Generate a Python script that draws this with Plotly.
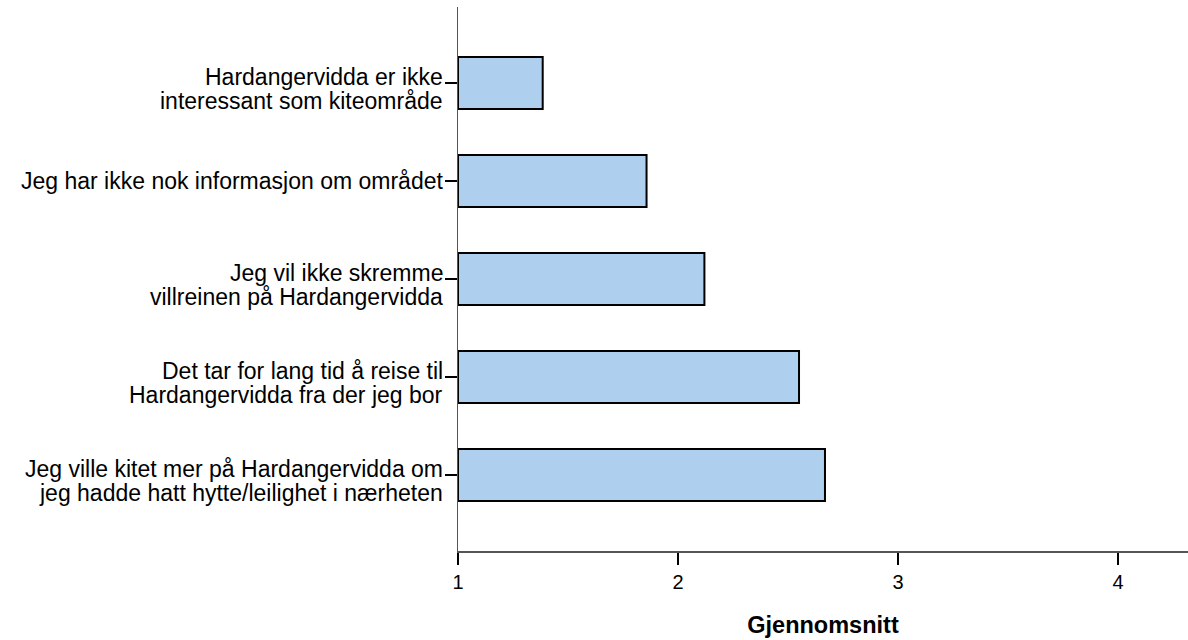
import plotly.graph_objects as go

categories = [
    "Hardangervidda er ikke<br>interessant som kiteområde",
    "Jeg har ikke nok informasjon om området",
    "Jeg vil ikke skremme<br>villreinen på Hardangervidda",
    "Det tar for lang tid å reise til<br>Hardangervidda fra der jeg bor",
    "Jeg ville kitet mer på Hardangervidda om<br>jeg hadde hatt hytte/leilighet i nærheten",
]
means = [1.385, 1.857, 2.12, 2.55, 2.668]
axis_start = 1
x_ticks = [1, 2, 3, 4]
x_title = "Gjennomsnitt"

font_family = "Liberation Sans, Arial, sans-serif"

fig = go.Figure(
    go.Bar(
        y=categories,
        x=[m - axis_start for m in means],
        base=axis_start,
        orientation="h",
        width=0.53,
        marker=dict(color="rgb(174,207,237)", line=dict(color="black", width=2)),
        hoverinfo="skip",
    )
)

# category labels: one annotation per text line, anchored to the category on the y axis
line_pitch = 24
for cat in categories:
    lines = cat.split("<br>")
    n = len(lines)
    for k, line in enumerate(lines):
        offset = (k - (n - 1) / 2) * line_pitch + (n - 1) * 6
        fig.add_annotation(
            x=0, xref="paper", xanchor="right", xshift=-13,
            y=cat, yref="y", yanchor="middle", yshift=-offset,
            text=line, showarrow=False,
            font=dict(size=23, color="black", family=font_family),
        )

fig.update_layout(
    width=1188,
    height=640,
    margin=dict(l=458, r=0, t=7, b=89),
    paper_bgcolor="white",
    plot_bgcolor="white",
    showlegend=False,
    font=dict(family=font_family, size=22, color="black"),
)

fig.update_xaxes(
    range=[1, 4.318],
    tickvals=x_ticks,
    ticktext=[str(t) for t in x_ticks],
    showgrid=False,
    zeroline=False,
    showline=True,
    linecolor="#555555",
    linewidth=1.5,
    ticks="outside",
    ticklen=12,
    tickwidth=2,
    tickcolor="black",
    tickfont=dict(size=20),
    title=dict(text="<b>" + x_title + "</b>", font=dict(size=23.5), standoff=25),
)

fig.update_yaxes(
    type="category",
    categoryorder="array",
    categoryarray=categories,
    range=[4.775, -0.775],
    showgrid=False,
    zeroline=False,
    showline=True,
    linecolor="#555555",
    linewidth=1.5,
    ticks="outside",
    ticklen=12,
    tickwidth=2,
    tickcolor="black",
    showticklabels=False,
)

fig.write_html(
    "out.html",
    config={"displayModeBar": False, "staticPlot": True},
    post_script="document.body.style.margin='0';document.body.style.overflow='hidden';",
)
